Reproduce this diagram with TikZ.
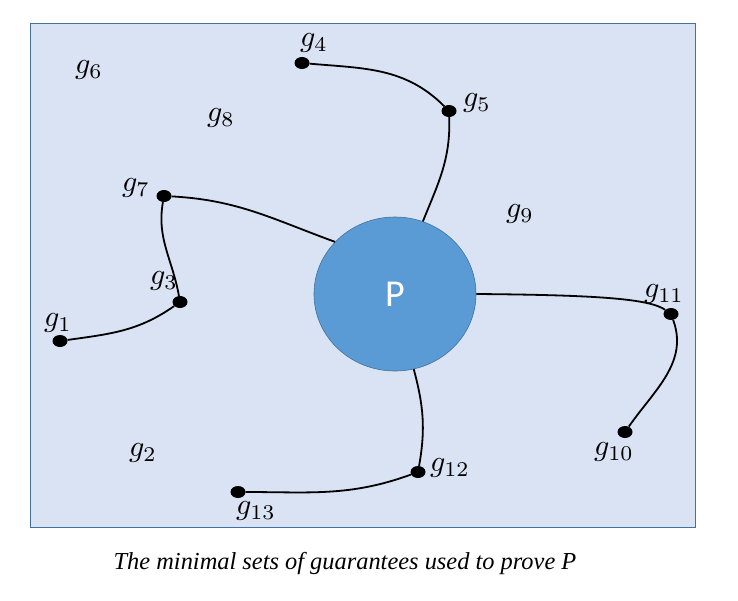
\documentclass[tikz,border=0pt]{standalone}
\usepackage{fontspec}
\setmainfont{Liberation Serif}
\newfontfamily\calfont{Carlito}
\usetikzlibrary{shapes.geometric}
\definecolor{frameFill}{HTML}{DAE3F3}
\definecolor{frameLine}{HTML}{41719C}
\definecolor{propFill}{HTML}{5B9BD5}
% guarantee name, enlarged
\newcommand{\gname}[1]{\scalebox{3.0}{$g_{#1}$}}
\begin{document}
\begin{tikzpicture}[x=1pt, y=-1pt,
  gdot/.style={ellipse, fill=black, inner sep=0pt, minimum width=15pt, minimum height=12pt},
  glabel/.style={inner sep=0pt},
  link/.style={line width=1.8pt, black}]
% page size as in the original
\useasboundingbox (0,0) rectangle (738,600);
% Background frame
\draw[fill=frameFill, draw=frameLine, line width=0.9pt] (30,23) rectangle (695,527);
% The property
\node[ellipse, fill=propFill, draw=frameLine, line width=0.6pt, minimum width=162pt, minimum height=154pt,
  text=white, font=\calfont\fontsize{38}{40}\selectfont] (P) at (395,294) {P};
% Guarantee points
\node[gdot] (g1) at (60,341) {};
\node[gdot] (g3) at (180,302) {};
\node[gdot] (g4) at (302,63) {};
\node[gdot] (g5) at (449,111) {};
\node[gdot] (g7) at (164,196) {};
\node[gdot] (g10) at (625,432) {};
\node[gdot] (g11) at (671,314) {};
\node[gdot] (g12) at (418,472) {};
\node[gdot] (g13) at (238,492) {};
% Labels
\node[glabel] (l1) at (58,323) {\gname{1}};
\node[glabel] (l2) at (143,453) {\gname{2}};
\node[glabel] (l3) at (164,281) {\gname{3}};
\node[glabel] (l4) at (314,43) {\gname{4}};
\node[glabel] (l5) at (477,103) {\gname{5}};
\node[glabel] (l6) at (89,70) {\gname{6}};
\node[glabel] (l7) at (136,188) {\gname{7}};
\node[glabel] (l8) at (221,118) {\gname{8}};
\node[glabel] (l9) at (520,214) {\gname{9}};
\node[glabel] (l10) at (614,452) {\gname{10}};
\node[glabel] (l11) at (664,294) {\gname{11}};
\node[glabel] (l12) at (450,468) {\gname{12}};
\node[glabel] (l13) at (256,511) {\gname{13}};
% Connections
\begin{scope}[link]
  \draw (g4) to[out=-5, in=135] (g5);
  \draw (g5) to[out=-88, in=68] (P.69);
  \draw (g7) to[out=-3, in=160] (P.139);
  \draw (g7) to[out=-100, in=100] (g3);
  \draw (g3) to[out=-145, in=8] (g1);
  \draw (P.east) .. controls (600,295) and (650,299) .. (g11);
  \draw (g11) to[out=-70, in=55] (g10);
  \draw (P.-76) to[out=-75, in=80] (g12);
  \draw (g12) to[out=-160, in=0] (g13);
\end{scope}
% Caption
\node[font=\itshape\fontsize{24.4}{26}\selectfont, inner sep=0pt] (cap) at (345,563) {The minimal sets of guarantees used to prove P};
\end{tikzpicture}
\end{document}
